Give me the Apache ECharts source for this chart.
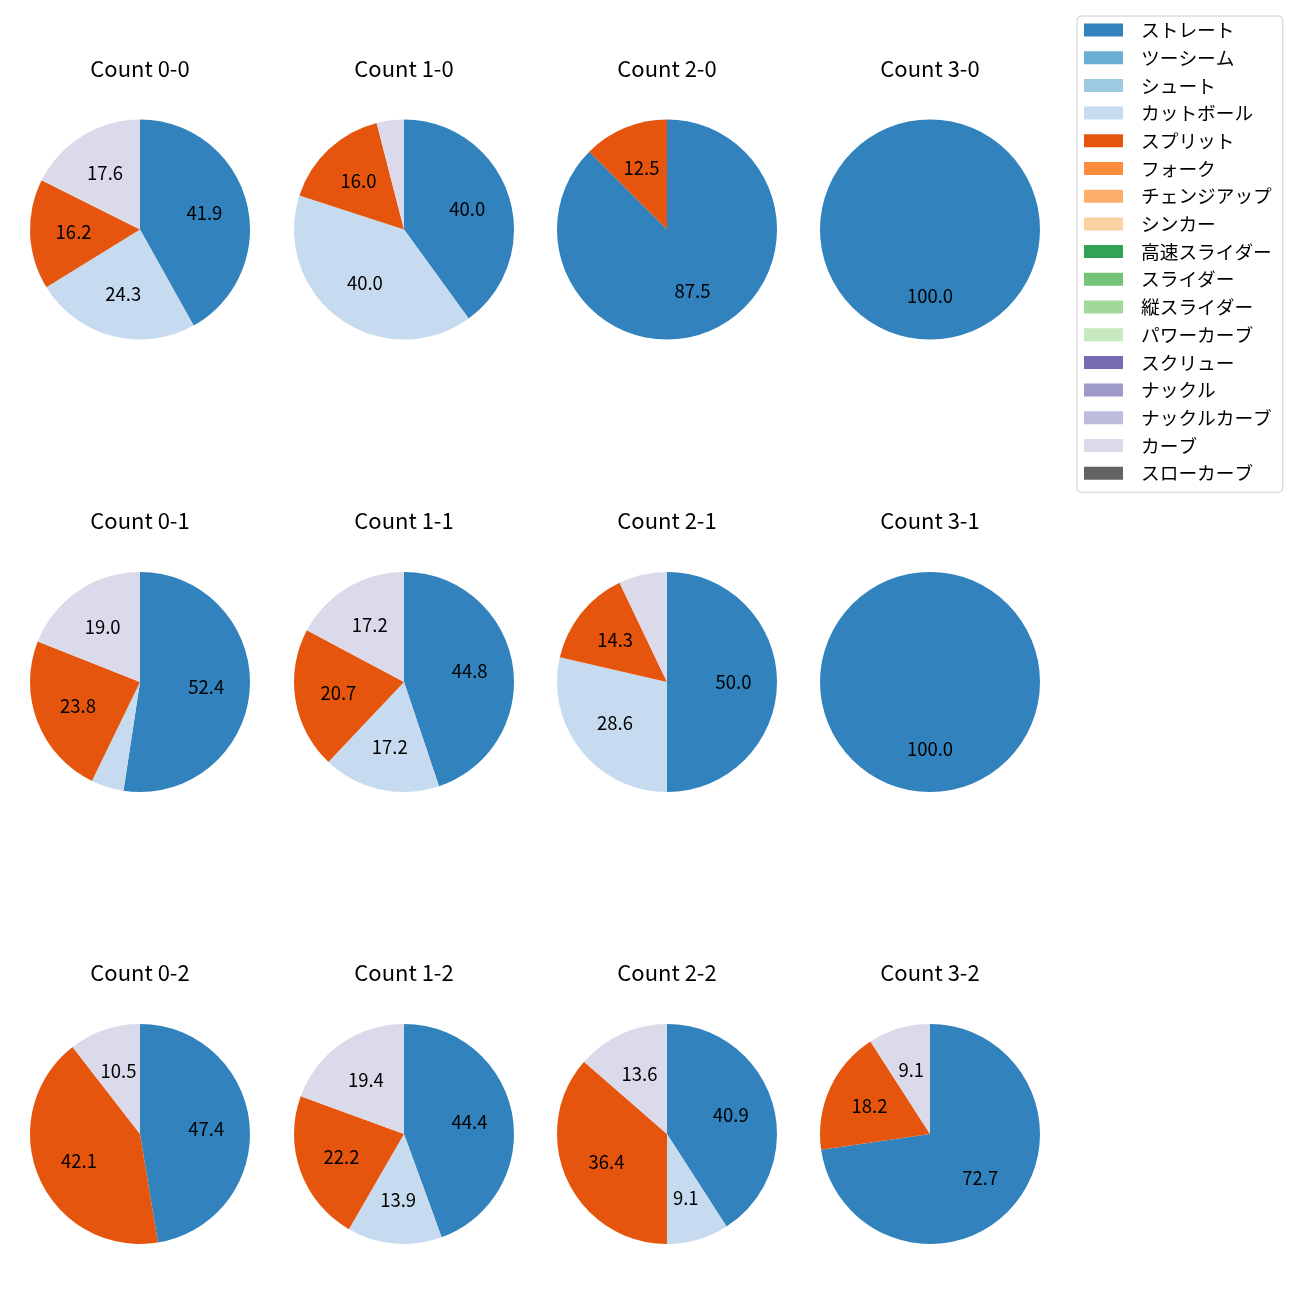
<!DOCTYPE html>
<html>
<head>
<meta charset="utf-8">
<script src="https://cdn.jsdelivr.net/npm/echarts@6/dist/echarts.min.js"></script>
<style>
html,body{margin:0;padding:0;background:#fff;}
#chart{width:1300px;height:1300px;}
</style>
</head>
<body>
<div id="chart"></div>
<script>
// Pitch types (legend order)
const pitchTypes = ['ストレート','ツーシーム','シュート','カットボール','スプリット','フォーク','チェンジアップ','シンカー','高速スライダー','スライダー','縦スライダー','パワーカーブ','スクリュー','ナックル','ナックルカーブ','カーブ','スローカーブ'];
const palette = ['#3182bd','#6baed6','#9ecae1','#c6dbef','#e6550d','#fd8d3c','#fdae6b','#fdd0a2','#31a354','#74c476','#a1d99b','#c7e9c0','#756bb1','#9e9ac8','#bcbddc','#dadaeb','#636363'];

// Counts (panel order: rows of strikes 0,1,2; columns of balls 0..3)
const counts = ['Count 0-0','Count 1-0','Count 2-0','Count 3-0','Count 0-1','Count 1-1','Count 2-1','Count 3-1','Count 0-2','Count 1-2','Count 2-2','Count 3-2'];

// Percentages per pitch type, one value per count (same order as counts)
const straight = [41.9, 40.0, 87.5, 100.0, 52.4, 44.8, 50.0, 100.0, 47.4, 44.4, 40.9, 72.7];
const cutter   = [24.3, 40.0, 0, 0, 4.8, 17.2, 28.6, 0, 0, 13.9, 9.1, 0];
const split    = [16.2, 16.0, 12.5, 0, 23.8, 20.7, 14.3, 0, 42.1, 22.2, 36.4, 18.2];
const curve    = [17.6, 4.0, 0, 0, 19.0, 17.2, 7.1, 0, 10.5, 19.4, 13.6, 9.1];

const seriesByType = {'ストレート': straight, 'カットボール': cutter, 'スプリット': split, 'カーブ': curve};

const FONT = '"Noto Sans CJK JP", "Noto Sans", sans-serif';
const colX = [140, 404, 667, 930];
const rowY = [229.5, 682, 1134];
const titleY = [69, 521, 973];
const R = 110;

const series = [];
const labelSeries = [];
const titles = [];
counts.forEach((name, i) => {
  const r = Math.floor(i / 4), c = i % 4;
  const data = pitchTypes.map(t => ({name: t, value: seriesByType[t] ? seriesByType[t][i] : 0}));
  series.push({
    type: 'pie', name: name, radius: [0, R], center: [colX[c], rowY[r]],
    startAngle: 90, clockwise: true, animation: false, silent: true,
    label: {show: false}, labelLine: {show: false},
    itemStyle: {borderWidth: 0},
    data: data
  });
  labelSeries.push({
    type: 'pie', name: name + ' labels', radius: [17, R], center: [colX[c], rowY[r]],
    startAngle: 90, clockwise: true, animation: false, silent: true,
    itemStyle: {color: 'rgba(0,0,0,0)', borderWidth: 0},
    label: {show: true, position: 'inside', color: '#000', fontFamily: FONT, fontSize: 18.5,
      formatter: p => (p.value >= 8 ? p.value.toFixed(1) : '')},
    labelLine: {show: false},
    data: data
  });
  titles.push({
    text: name, left: colX[c], top: titleY[r], textAlign: 'center', textVerticalAlign: 'middle',
    padding: 0,
    textStyle: {fontFamily: FONT, fontSize: 22, fontWeight: 'normal', color: '#000'}
  });
});

const chart = echarts.init(document.getElementById('chart'), null, {renderer: 'canvas'});
chart.setOption({
  animation: false,
  color: palette,
  title: titles,
  legend: {
    orient: 'vertical', left: 1077, top: 16,
    data: pitchTypes,
    icon: 'rect', itemWidth: 39, itemHeight: 13, itemGap: 7.7,
    padding: [4, 11, 9, 7],
    borderColor: '#cccccc', borderWidth: 1, borderRadius: 4,
    selectedMode: false,
    textStyle: {fontFamily: FONT, fontSize: 18.7, color: '#000', lineHeight: 20, padding: [0, 0, 0, 13]}
  },
  series: series.concat(labelSeries)
});
</script>
</body>
</html>
